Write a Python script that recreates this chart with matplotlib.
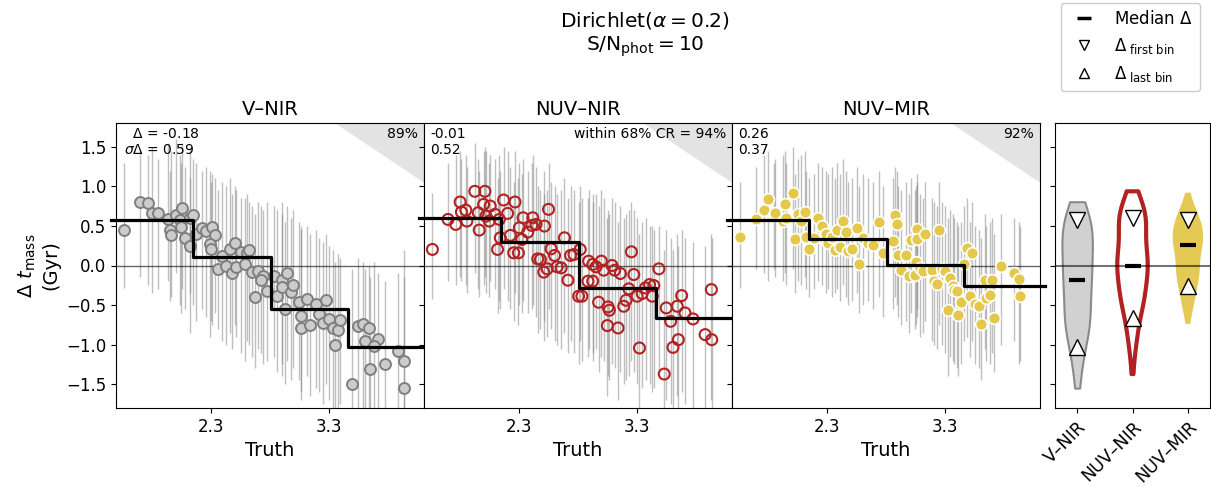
import numpy as np
import matplotlib
matplotlib.use("Agg")
import matplotlib.pyplot as plt
from matplotlib.lines import Line2D

# ---- data ----
colours = ["V–NIR", "NUV–NIR", "NUV–MIR"]

vnir_x = [1.571, 1.703, 1.771, 1.805, 1.856, 1.938, 1.952, 1.966, 2.008, 2.037, 2.059, 2.051, 2.079,
          2.127, 2.127, 2.150, 2.178, 2.229, 2.263, 2.314, 2.336, 2.297, 2.300, 2.398, 2.364, 2.432,
          2.460, 2.508, 2.483, 2.517, 2.559, 2.602, 2.624, 2.588, 2.644, 2.701, 2.743, 2.720, 2.670,
          2.777, 2.833, 2.861, 2.904, 2.904, 2.946, 2.974, 2.997, 2.924, 3.045, 3.116, 3.186, 3.271,
          3.065, 3.059, 3.138, 3.215, 3.251, 3.299, 3.328, 3.370, 3.393, 3.347, 3.545, 3.582, 3.638,
          3.602, 3.715, 3.681, 3.647, 3.771, 3.878, 3.929, 3.489, 3.929]
vnir_y = [0.447, 0.806, 0.793, 0.658, 0.667, 0.591, 0.443, 0.380, 0.633, 0.570, 0.730, 0.489, 0.350,
          0.245, 0.603, 0.641, 0.392, 0.477, 0.435, 0.485, 0.380, 0.266, 0.203, 0.118, -0.042, -0.008,
          0.211, 0.287, -0.093, -0.017, 0.169, 0.160, 0.194, 0.013, -0.084, -0.072, -0.135, -0.177, -0.397,
          -0.325, -0.135, -0.380, -0.177, -0.270, -0.093, -0.338, -0.241, -0.549, -0.464, -0.422, -0.481, -0.430,
          -0.633, -0.789, -0.747, -0.608, -0.726, -0.675, -0.789, -0.810, -0.692, -1.008, -0.768, -0.734, -0.789,
          -0.958, -0.928, -1.021, -1.308, -1.245, -1.084, -1.203, -1.498, -1.549]
vnir_top = [1.30, 1.45, 1.40, 1.50, 1.35, 1.55, 1.20, 1.45, 1.60, 1.40, 1.55, 1.30, 1.25,
            1.10, 1.50, 1.35, 1.30, 1.20, 1.25, 1.15, 1.10, 1.20, 1.05, 1.05, 0.95, 1.00,
            1.10, 1.00, 0.90, 0.95, 0.85, 0.90, 0.80, 0.85, 0.75, 0.80, 0.70, 0.75, 0.65,
            0.80, 0.75, 0.70, 0.80, 0.65, 0.75, 0.60, 0.70, 0.55, 0.55, 0.50, 0.45, 0.40,
            0.50, 0.45, 0.40, 0.35, 0.30, 0.25, 0.20, 0.15, 0.10, 0.05, 0.10, 0.05, 0.00,
            -0.05, -0.10, 0.05, -0.15, -0.20, -0.10, -0.15, -0.05, 0.20]
vnir_bot = [-0.28, -0.15, -0.25, -0.35, -0.30, -0.20, -0.45, -0.40, -0.10, -0.50, -0.30, -0.60, -0.55,
            -0.85, -0.35, -0.50, -0.70, -0.55, -0.65, -0.75, -0.60, -0.90, -0.70, -0.95, -0.80, -1.00,
            -0.85, -0.75, -1.05, -0.90, -1.10, -0.95, -1.00, -1.20, -1.15, -1.05, -1.25, -1.10, -1.30,
            -1.20, -1.15, -1.35, -1.25, -1.40, -1.20, -1.45, -1.30, -1.50, -1.45, -1.40, -1.55, -1.50,
            -1.60, -1.70, -1.65, -1.60, -1.75, -1.70, -1.85, -1.80, -1.75, -1.95, -1.90, -1.85, -1.95,
            -2.00, -1.95, -2.00, -2.10, -2.05, -2.00, -2.10, -2.20, -2.20]

nnir_x = [1.571, 1.703, 1.768, 1.805, 1.816, 1.853, 1.862, 1.929, 2.014, 2.003, 2.059, 1.958, 1.966,
          2.023, 2.051, 2.099, 2.136, 2.121, 2.172, 2.206, 2.144, 2.268, 2.229, 2.305, 2.336, 2.376,
          2.410, 2.418, 2.446, 2.517, 2.551, 2.257, 2.297, 2.325, 2.460, 2.483, 2.511, 2.540, 2.573,
          2.602, 2.624, 2.658, 2.686, 2.715, 2.737, 2.766, 2.805, 2.819, 2.833, 2.890, 2.924, 2.884,
          2.924, 2.952, 2.997, 3.017, 2.974, 3.054, 3.065, 3.048, 3.138, 3.087, 3.110, 3.158, 3.186,
          3.206, 3.229, 3.251, 3.271, 3.299, 3.342, 3.370, 3.404, 3.440, 3.427, 3.319, 3.483, 3.528,
          3.545, 3.582, 3.638, 3.675, 3.703, 3.771, 3.647, 3.602, 3.873, 3.929, 3.926]
nnir_y = [0.203, 0.582, 0.519, 0.802, 0.675, 0.700, 0.561, 0.937, 0.937, 0.772, 0.751, 0.667, 0.447,
          0.624, 0.561, 0.646, 0.582, 0.203, 0.827, 0.658, 0.350, 0.802, 0.380, 0.477, 0.603, 0.422,
          0.506, 0.603, 0.519, 0.498, 0.709, 0.160, 0.160, 0.329, 0.084, 0.076, -0.084, -0.042, 0.211,
          0.127, -0.017, -0.030, 0.350, -0.186, 0.127, 0.139, -0.388, 0.203, -0.388, 0.055, 0.013, -0.198,
          -0.198, -0.017, 0.055, -0.059, -0.464, -0.523, -0.565, -0.759, -0.789, 0.000, -0.059, -0.101, -0.515,
          -0.439, -0.295, 0.173, -0.114, -0.388, -0.354, -0.283, -0.241, -0.253, -0.388, -1.042, -0.042, -1.371,
          -0.536, -0.705, -0.515, -0.380, -0.599, -0.675, -0.937, -1.034, -0.873, -0.937, -0.304]
nnir_top = [0.92, 1.30, 1.40, 1.45, 1.35, 1.40, 1.25, 1.55, 1.50, 1.45, 1.40, 1.35, 1.20,
            1.45, 1.30, 1.35, 1.40, 1.10, 1.50, 1.45, 1.20, 1.45, 1.25, 1.30, 1.35, 1.20,
            1.30, 1.40, 1.25, 1.20, 1.30, 1.05, 1.10, 1.15, 1.00, 0.95, 0.90, 0.95, 1.05,
            1.00, 0.90, 0.95, 1.10, 0.85, 1.00, 0.95, 0.80, 1.00, 0.85, 0.95, 0.90, 0.85,
            0.80, 0.90, 0.95, 0.85, 0.75, 0.70, 0.65, 0.60, 0.55, 0.85, 0.80, 0.75, 0.60,
            0.65, 0.70, 0.80, 0.70, 0.60, 0.55, 0.60, 0.50, 0.45, 0.50, 0.40, 0.50, 0.20,
            0.45, 0.35, 0.40, 0.45, 0.35, 0.30, 0.25, 0.20, 0.25, 0.35, 0.40]
nnir_bot = [-0.42, -0.20, -0.25, -0.15, -0.20, -0.25, -0.35, -0.10, -0.15, -0.25, -0.20, -0.30, -0.40,
            -0.35, -0.40, -0.30, -0.45, -0.60, -0.30, -0.45, -0.55, -0.35, -0.55, -0.50, -0.45, -0.60,
            -0.55, -0.50, -0.65, -0.70, -0.55, -0.70, -0.75, -0.60, -0.85, -0.80, -0.95, -0.90, -0.80,
            -0.95, -1.00, -1.05, -0.85, -1.10, -0.95, -1.10, -1.25, -0.95, -1.20, -1.05, -1.10, -1.15,
            -1.20, -1.05, -1.15, -1.20, -1.35, -1.40, -1.45, -1.65, -1.70, -1.25, -1.30, -1.35, -1.50,
            -1.45, -1.40, -1.20, -1.35, -1.50, -1.55, -1.45, -1.50, -1.55, -1.60, -1.90, -1.40, -2.10,
            -1.70, -1.75, -1.65, -1.60, -1.75, -1.80, -1.90, -1.95, -1.85, -2.00, -1.70]

nmir_x = [1.571, 1.703, 1.768, 1.805, 1.853, 1.867, 1.929, 1.946, 1.960, 2.014, 2.031, 2.059, 2.079,
          2.116, 2.127, 2.150, 2.192, 2.229, 2.257, 2.297, 2.314, 2.347, 2.370, 2.390, 2.410, 2.438,
          2.460, 2.483, 2.511, 2.551, 2.573, 2.602, 2.644, 2.692, 2.737, 2.771, 2.856, 2.876, 2.895,
          2.904, 2.924, 2.969, 2.997, 3.008, 3.045, 3.054, 3.059, 3.065, 3.087, 3.110, 3.133, 3.186,
          3.206, 3.229, 3.251, 3.271, 3.299, 3.322, 3.342, 3.364, 3.370, 3.398, 3.407, 3.435, 3.460,
          3.483, 3.525, 3.506, 3.548, 3.582, 3.602, 3.638, 3.644, 3.675, 3.698, 3.715, 3.771, 3.878,
          3.926, 3.929]
nmir_y = [0.359, 0.591, 0.700, 0.835, 0.633, 0.667, 0.561, 0.781, 0.603, 0.920, 0.338, 0.654, 0.561,
          0.675, 0.363, 0.203, 0.350, 0.595, 0.498, 0.392, 0.278, 0.363, 0.190, 0.447, 0.232, 0.561,
          0.422, 0.181, 0.211, 0.477, 0.013, 0.350, 0.287, 0.253, 0.549, 0.160, 0.308, 0.633, 0.519,
          0.127, -0.051, 0.127, -0.135, 0.321, -0.114, 0.042, 0.456, 0.329, -0.030, -0.072, 0.392, -0.059,
          -0.198, -0.228, 0.447, -0.042, -0.072, -0.557, -0.156, -0.253, -0.304, -0.325, -0.620, -0.460, 0.013,
          0.224, 0.152, -0.388, -0.485, -0.506, -0.738, -0.186, -0.409, -0.367, -0.186, -0.662, 0.000, -0.101,
          -0.169, -0.388]
nmir_top = [1.05, 1.25, 1.40, 1.45, 1.30, 1.35, 1.40, 1.45, 1.30, 1.50, 1.15, 1.35, 1.40,
            1.45, 1.20, 1.10, 1.15, 1.30, 1.25, 1.20, 1.15, 1.25, 1.10, 1.30, 1.15, 1.35,
            1.20, 1.05, 1.10, 1.25, 1.00, 1.15, 1.10, 1.05, 1.20, 1.00, 1.10, 1.25, 1.20,
            1.00, 0.95, 1.05, 0.90, 1.10, 0.95, 1.00, 1.15, 1.05, 0.90, 0.85, 1.05, 0.85,
            0.80, 0.75, 1.05, 0.80, 0.75, 0.60, 0.70, 0.65, 0.60, 0.55, 0.50, 0.55, 0.75,
            0.85, 0.80, 0.55, 0.50, 0.45, 0.35, 0.65, 0.50, 0.55, 0.60, 0.40, 0.65, 0.60,
            0.55, 0.50]
nmir_bot = [-0.28, -0.05, -0.10, -0.20, -0.05, -0.15, -0.20, -0.10, -0.25, -0.05, -0.35, -0.20, -0.25,
            -0.15, -0.30, -0.40, -0.30, -0.20, -0.25, -0.35, -0.30, -0.40, -0.35, -0.30, -0.45, -0.25,
            -0.40, -0.50, -0.45, -0.35, -0.60, -0.50, -0.45, -0.55, -0.40, -0.65, -0.55, -0.40, -0.50,
            -0.65, -0.75, -0.70, -0.85, -0.60, -0.80, -0.75, -0.55, -0.65, -0.90, -0.85, -0.70, -0.95,
            -1.00, -1.05, -0.75, -1.00, -1.10, -1.40, -1.15, -1.20, -1.25, -1.30, -1.40, -1.25, -0.95,
            -0.90, -0.95, -1.15, -1.25, -1.30, -1.45, -1.05, -1.20, -1.25, -1.10, -1.35, -1.00, -0.95,
            -1.25, -1.20]

# binned medians (step lines) and summary numbers
bin_edges = [1.46, 2.15, 2.81, 3.46, 4.14]
vnir_bins = [0.57, 0.105, -0.545, -1.025]
nnir_bins = [0.60, 0.295, -0.28, -0.66]
nmir_bins = [0.58, 0.33, 0.01, -0.26]
median_delta = [-0.18, -0.01, 0.26]
sigma_delta = [0.59, 0.52, 0.37]
within_cr = [89, 94, 92]
t_max = 5.15  # upper age limit -> shaded region

xs_all = [vnir_x, nnir_x, nmir_x]
ys_all = [vnir_y, nnir_y, nmir_y]
tops_all = [vnir_top, nnir_top, nmir_top]
bots_all = [vnir_bot, nnir_bot, nmir_bot]
bins_all = [vnir_bins, nnir_bins, nmir_bins]

grey = "#cccccc"
red = "#b22222"
yellow = "#e3c84c"

fig = plt.figure(figsize=(12.11, 4.87), dpi=100)
left, bottom, height = 116 / 1211, 1 - 408 / 487, 285 / 487
w = 308 / 1211
axes = []
for i in range(3):
    ax = fig.add_axes([left + i * w, bottom, w, height], sharey=axes[0] if axes else None)
    axes.append(ax)
vax = fig.add_axes([1055 / 1211, bottom, 155 / 1211, height])

for i, ax in enumerate(axes):
    x = np.array(xs_all[i])
    y = np.array(ys_all[i])
    top = np.array(tops_all[i])
    bot = np.array(bots_all[i])
    ax.errorbar(x, y, yerr=[y - bot, top - y], fmt="none", ecolor="grey", alpha=0.5, lw=1, zorder=1)
    if i == 0:
        ax.scatter(x, y, s=62, facecolor=grey, edgecolor="#7f7f7f", linewidth=1.4, zorder=3)
    elif i == 1:
        ax.scatter(x, y, s=62, facecolor="none", edgecolor=red, linewidth=1.5, zorder=3)
    else:
        ax.scatter(x, y, s=72, facecolor=yellow, edgecolor="white", linewidth=1.2, zorder=3)

    b = bins_all[i]
    ax.plot(bin_edges, b + [b[-1]], drawstyle="steps-post", color="k", lw=2.3, zorder=4, clip_on=False)
    ax.axhline(0, color="k", lw=1, alpha=0.6, zorder=2)

    xx = np.linspace(t_max - 2.0, 4.1, 50)
    ax.fill_between(xx, t_max - xx, 2.0, color="#e3e3e3", lw=0, zorder=0)

    ax.set_xlim(1.5, 4.1)
    ax.set_ylim(-1.8, 1.8)
    ax.set_xticks([2.3, 3.3])
    ax.set_xticklabels(["2.3", "3.3"], fontsize=12)
    ax.set_yticks([-1.5, -1.0, -0.5, 0.0, 0.5, 1.0, 1.5])
    ax.tick_params(axis="y", labelsize=12)
    ax.set_xlabel("Truth", fontsize=14)
    ax.set_title(colours[i], fontsize=14)
    if i == 0:
        ax.text(0.025, 0.985, "  $\\Delta$ = %.2f\n$\\sigma\\Delta$ = %.2f" % (median_delta[i], sigma_delta[i]),
                transform=ax.transAxes, ha="left", va="top", fontsize=10, zorder=5)
    else:
        ax.text(0.02, 0.985, "%.2f\n%.2f" % (median_delta[i], sigma_delta[i]),
                transform=ax.transAxes, ha="left", va="top", fontsize=10, zorder=5)
        plt.setp(ax.get_yticklabels(), visible=False)
    rtxt = "within 68%% CR = %d%%" % within_cr[i] if i == 1 else "%d%%" % within_cr[i]
    ax.text(0.98, 0.985, rtxt, transform=ax.transAxes, ha="right", va="top", fontsize=10, zorder=5)

axes[0].set_ylabel("$\\Delta\\ t_{\\rm mass}$\n(Gyr)", fontsize=14)

# violin summary panel
vp = vax.violinplot([vnir_y, nnir_y, nmir_y], positions=[1, 2, 3], widths=0.55,
                    showextrema=False)
styles = [dict(fc=grey, ec="grey", lw=1.5, alpha=0.9),
          dict(fc="none", ec=red, lw=3, alpha=1),
          dict(fc=yellow, ec="none", lw=0, alpha=0.95)]
for body, st in zip(vp["bodies"], styles):
    body.set_facecolor(st["fc"])
    body.set_edgecolor(st["ec"])
    body.set_linewidth(st["lw"])
    body.set_alpha(st["alpha"])
vax.axhline(0, color="k", lw=1.5, alpha=0.55)
for j in range(3):
    vax.plot(j + 1, median_delta[j], marker="_", color="k", ms=12, mew=3, ls="none", zorder=5)
    vax.plot(j + 1, bins_all[j][0], marker="v", mfc="white", mec="k", ms=11, ls="none", zorder=5)
    vax.plot(j + 1, bins_all[j][-1], marker="^", mfc="white", mec="k", ms=11, ls="none", zorder=5)
vax.set_xlim(0.6, 3.4)
vax.set_ylim(-1.8, 1.8)
vax.set_yticks([-1.5, -1.0, -0.5, 0.0, 0.5, 1.0, 1.5])
vax.set_yticklabels([])
vax.set_xticks([1, 2, 3])
vax.set_xticklabels(colours, rotation=45, ha="right", rotation_mode="anchor", fontsize=12.5)

handles = [Line2D([], [], marker="_", color="k", ms=10, mew=2.5, ls="none"),
           Line2D([], [], marker="v", mfc="white", mec="k", ms=7, ls="none"),
           Line2D([], [], marker="^", mfc="white", mec="k", ms=7, ls="none")]
labels = ["Median $\\Delta$", "$\\Delta_{\\rm\\ first\\ bin}$", "$\\Delta_{\\rm\\ last\\ bin}$"]
fig.legend(handles, labels, loc="upper right", bbox_to_anchor=(1200 / 1211, 1 - 3 / 487),
           borderaxespad=0, fontsize=12, framealpha=1, edgecolor="#cccccc")

fig.text(645 / 1211, 1 - 10 / 487, "Dirichlet($\\alpha = 0.2$)\nS/N$_{\\rm phot} = 10$",
         ha="center", va="top", fontsize=14.5)

fig.savefig("out.png", dpi=100)
